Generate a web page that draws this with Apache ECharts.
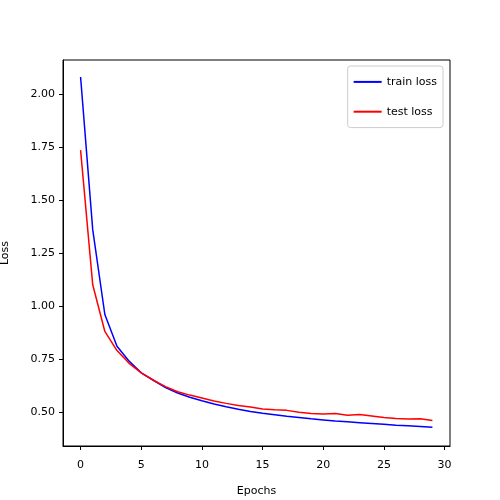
<!DOCTYPE html><html><head><script src="https://cdn.jsdelivr.net/npm/echarts@6/dist/echarts.min.js"></script></head><body style="margin:0"><div id="c" style="width:500px;height:500px"></div><script>
const epochs=[...Array(30).keys()];
const trainLoss=[2.08,1.36,0.96,0.81,0.74,0.685,0.65,0.615,0.59,0.57,0.553,0.538,0.525,0.513,0.503,0.494,0.487,0.480,0.474,0.468,0.463,0.458,0.454,0.450,0.446,0.442,0.438,0.435,0.432,0.428];
const testLoss=[1.735,1.10,0.88,0.79,0.73,0.685,0.65,0.62,0.596,0.58,0.566,0.552,0.541,0.531,0.524,0.515,0.511,0.508,0.499,0.493,0.491,0.493,0.485,0.489,0.482,0.474,0.470,0.467,0.469,0.460];
const xTicks=[0,5,10,15,20,25,30];
const yTicks=[0.5,0.75,1.0,1.25,1.5,1.75,2.0];
const f='DejaVu Sans';
const ax={axisLine:{onZero:false,lineStyle:{color:'#000'}},axisTick:{show:true,inside:false,length:4,lineStyle:{color:'#000'}},splitLine:{show:false},axisLabel:{color:'#000',fontFamily:f,fontSize:11}};
const ch=echarts.init(document.getElementById('c'));
ch.setOption({animation:false,
grid:{left:63,right:50,top:60,bottom:54,outerBoundsMode:'none',containLabel:false,show:true,borderColor:'#000',borderWidth:1},
legend:{right:57,top:66,orient:'vertical',itemWidth:28,itemHeight:2,itemGap:8,borderColor:'#ccc',borderWidth:1,borderRadius:3,padding:[5,6],textStyle:{fontFamily:f,fontSize:11,color:'#000'},data:[{name:'train loss',icon:'rect'},{name:'test loss',icon:'rect'}]},
xAxis:{type:'value',min:-1.45,max:30.45,name:'Epochs',nameLocation:'middle',nameGap:28,nameTextStyle:{fontFamily:f,fontSize:11,color:'#000'},...ax,axisTick:{...ax.axisTick,customValues:xTicks},axisLabel:{...ax.axisLabel,customValues:xTicks,formatter:v=>String(v)}},
yAxis:{type:'value',min:0.34,max:2.16,name:'Loss',nameLocation:'middle',nameGap:47,nameTextStyle:{fontFamily:f,fontSize:11,color:'#000'},...ax,axisTick:{...ax.axisTick,customValues:yTicks},axisLabel:{...ax.axisLabel,customValues:yTicks,formatter:v=>v.toFixed(2)}},
series:[{name:'train loss',type:'line',data:epochs.map((e,i)=>[e,trainLoss[i]]),showSymbol:false,lineStyle:{color:'#0000ff',width:1.5},itemStyle:{color:'#0000ff'}},
{name:'test loss',type:'line',data:epochs.map((e,i)=>[e,testLoss[i]]),showSymbol:false,lineStyle:{color:'#ff0000',width:1.5},itemStyle:{color:'#ff0000'}}]});
</script></body></html>
